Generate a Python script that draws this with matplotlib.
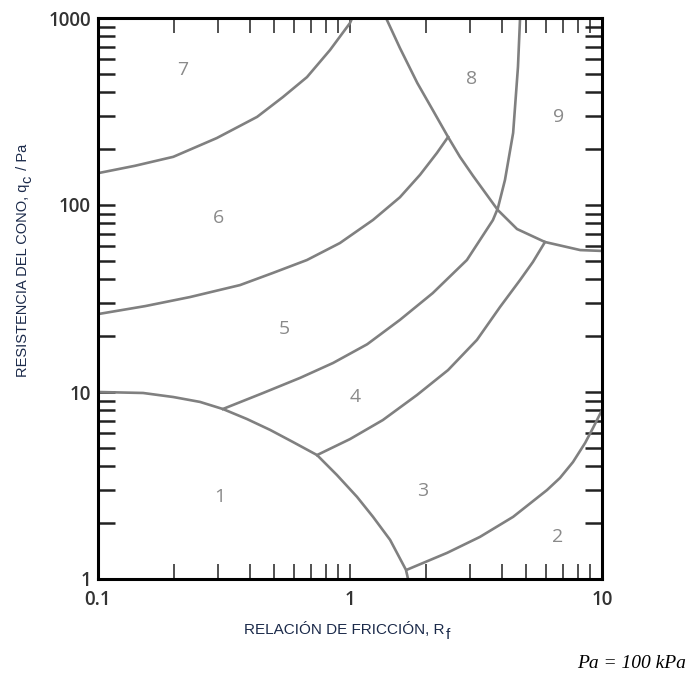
import matplotlib
matplotlib.use("Agg")
import matplotlib.pyplot as plt

# Limites de zonas (Rf, qc/Pa)
zona1_x = [0.1, 0.151, 0.199, 0.254, 0.313, 0.390, 0.482, 0.594, 0.740, 0.887,
           1.066, 1.234, 1.442, 1.667, 1.70]
zona1_y = [10.0, 9.88, 9.40, 8.85, 8.11, 7.17, 6.27, 5.40, 4.60, 3.60,
           2.75, 2.15, 1.62, 1.12, 1.0]

lim54_x = [0.313, 0.452, 0.634, 0.857, 1.17, 1.578, 2.13, 2.91, 3.69, 3.86,
           4.12, 4.44, 4.64, 4.73]
lim54_y = [8.11, 9.88, 11.9, 14.3, 18.0, 24.3, 33.8, 50.8, 83, 96,
           136, 243, 547, 1000]

lim43_x = [0.74, 1.0, 1.35, 1.845, 2.45, 3.19, 3.94, 4.73, 5.32, 5.94]
lim43_y = [4.6, 5.6, 7.08, 9.64, 13.1, 19.0, 28.5, 39.7, 49.6, 63.4]

lim32_x = [1.68, 2.43, 3.28, 4.44, 6.05, 6.81, 7.67, 8.57, 9.21, 10.0]
lim32_y = [1.12, 1.38, 1.68, 2.15, 2.99, 3.47, 4.22, 5.34, 6.42, 8.0]

lim65_x = [0.1, 0.154, 0.232, 0.366, 0.494, 0.675, 0.912, 1.234, 1.578,
           1.896, 2.214, 2.45]
lim65_y = [26.1, 28.8, 32.2, 37.3, 43.3, 50.8, 62.6, 83.2, 110,
           145, 190, 231]

lim76_x = [0.1, 0.140, 0.199, 0.296, 0.428, 0.542, 0.675, 0.833, 1.0, 1.02]
lim76_y = [148, 162, 181, 228, 296, 378, 483, 674, 940, 1000]

lim8_x = [1.39, 1.578, 1.85, 2.13, 2.45, 2.73, 3.08, 3.86, 4.60, 5.94, 8.2, 10.0]
lim8_y = [1000, 691, 449, 322, 231, 181, 143, 94, 74.4, 63.4, 57.4, 56.8]

limites = [(zona1_x, zona1_y), (lim54_x, lim54_y), (lim43_x, lim43_y),
           (lim32_x, lim32_y), (lim65_x, lim65_y), (lim76_x, lim76_y),
           (lim8_x, lim8_y)]

# Numeros de zona y su posicion
zonas = ['1', '2', '3', '4', '5', '6', '7', '8', '9']
zonas_x = [0.305, 6.69, 1.95, 1.05, 0.547, 0.302, 0.217, 3.05, 6.75]
zonas_y = [2.75, 1.68, 2.96, 9.4, 21.7, 85, 527, 472, 296]

xticks = [0.1, 1, 10]
xtick_labels = ['0.1', '1', '10']
yticks = [1, 10, 100, 1000]
ytick_labels = ['1', '10', '100', '1000']

color_lbl = '#1b2a4a'

fig = plt.figure(figsize=(6.89, 6.79), dpi=100)
ax = fig.add_axes([98 / 689, 1 - 579 / 679, 504 / 689, 561 / 679])

for xs, ys in limites:
    ax.plot(xs, ys, color='#808080', lw=1.9, solid_joinstyle='round')

for t, x, y in zip(zonas, zonas_x, zonas_y):
    ax.text(x, y, t, fontsize=14, family='Open Sans', color='#8a8a8a',
            ha='center', va='center')

ax.set_xscale('log')
ax.set_yscale('log')
ax.set_xlim(0.1, 10)
ax.set_ylim(1, 1000)

ax.set_xticks(xticks)
ax.set_xticklabels(xtick_labels)
ax.set_yticks(yticks)
ax.set_yticklabels(ytick_labels)

ax.tick_params(axis='y', which='both', direction='in', left=True, right=True,
               length=12, width=1.8, color='#222222', pad=5)
ax.tick_params(axis='x', which='both', direction='in', top=True, bottom=True,
               length=11, width=1.1, color='#222222', pad=8)
for lbl in ax.get_xticklabels() + ax.get_yticklabels():
    lbl.set_fontfamily('Open Sans')
    lbl.set_fontsize(13.5)
    lbl.set_fontweight('semibold')
    lbl.set_color('#333333')

for s in ax.spines.values():
    s.set_linewidth(2.2)
    s.set_color('black')

# etiquetas de ejes con subindice grande, como en el original
ax.set_xlabel('RELACIÓN DE FRICCIÓN, R', family='Liberation Sans',
              fontsize=11, color=color_lbl)
ax.set_ylabel('RESISTENCIA DEL CONO, q', family='Liberation Sans',
              fontsize=10.5, color=color_lbl)
ax.xaxis.set_label_coords(0.489, -0.076)
ax.yaxis.set_label_coords(-0.135, 0.532)

fig.canvas.draw()
r = fig.canvas.get_renderer()
W, H = fig.bbox.width, fig.bbox.height

bx = ax.xaxis.label.get_window_extent(r)
fig.text((bx.x1 + 1) / W, (bx.y1 - 6) / H, 'f', family='Liberation Sans',
         fontsize=11, color=color_lbl, ha='left', va='top')

by = ax.yaxis.label.get_window_extent(r)
tc = fig.text((by.x1 + 4) / W, (by.y1 + 1) / H, 'c', family='Liberation Sans',
              fontsize=10.5, color=color_lbl, rotation=90,
              rotation_mode='anchor', ha='left', va='bottom')
bc = tc.get_window_extent(r)
fig.text(by.x1 / W, (bc.y1 + 1) / H, ' / Pa', family='Liberation Sans',
         fontsize=10.5, color=color_lbl, rotation=90,
         rotation_mode='anchor', ha='left', va='bottom')

fig.text(686 / 689, 1 - 664 / 679, 'Pa = 100 kPa', family='Liberation Serif',
         style='italic', fontsize=14, ha='right', va='center')

fig.savefig('out.png', dpi=100)
